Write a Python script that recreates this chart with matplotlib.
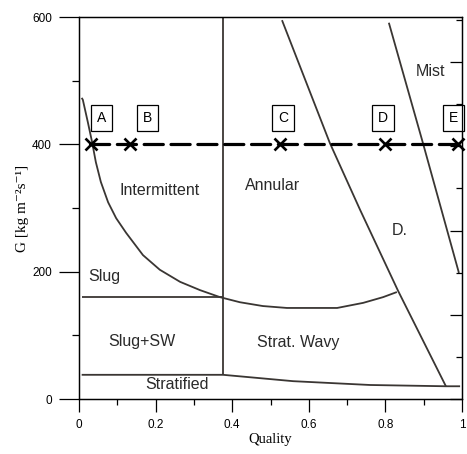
import matplotlib
matplotlib.use("Agg")
import matplotlib.pyplot as plt
from matplotlib.ticker import MultipleLocator, NullFormatter

# boundary curves (quality, G)
slug_int_x = [0.007, 0.010, 0.023, 0.034, 0.044, 0.057, 0.076, 0.097, 0.123,
              0.167, 0.211, 0.264, 0.316, 0.368, 0.420, 0.480, 0.543, 0.674,
              0.742, 0.794, 0.830]
slug_int_y = [473, 470, 435, 404, 372, 341, 309, 284, 261,
              226, 203, 184, 171, 160, 152, 146, 143, 143,
              151, 160, 168]

slug_x = [0.007, 0.376]
slug_y = [160, 160]

strat_x = [0.007, 0.376, 0.559, 0.76, 0.958, 0.995]
strat_y = [38, 38, 28, 22, 20, 20]

vert_x = [0.376, 0.376]
vert_y = [38, 600]

annular_x = [0.530, 0.655, 0.734, 0.833, 0.958]
annular_y = [595, 402, 297, 170, 20]

mist_x = [0.809, 0.898, 0.992]
mist_y = [591, 402, 198]

test_g = 400
test_x = [0.032, 0.133, 0.525, 0.799, 0.99]
case_labels = ['A', 'B', 'C', 'D', 'E']
case_label_x = [0.058, 0.178, 0.532, 0.793, 0.979]
case_label_y = 441

regions = ['Intermittent', 'Annular', 'Mist', 'D.', 'Slug', 'Slug+SW', 'Strat. Wavy', 'Stratified']
region_x = [0.211, 0.504, 0.919, 0.838, 0.067, 0.165, 0.571, 0.256]
region_y = [328, 335, 515, 264, 193, 91, 88, 22]

line_col = '#3a3633'
sans = ['Liberation Sans', 'DejaVu Sans']
serif = ['Liberation Serif', 'DejaVu Serif']

fig = plt.figure(figsize=(4.67, 4.54), dpi=100)
ax = fig.add_axes([79 / 467, 1 - 399 / 454, 383 / 467, 382 / 454])

for xs, ys in [(slug_int_x, slug_int_y), (slug_x, slug_y), (strat_x, strat_y),
               (vert_x, vert_y), (annular_x, annular_y), (mist_x, mist_y)]:
    ax.plot(xs, ys, color=line_col, lw=1.3, solid_capstyle='butt')

ax.plot([0.03, 1.0], [test_g, test_g], color='black', lw=2.3,
        dashes=(6, 2.4), dash_capstyle='round')
ax.plot(test_x, [test_g] * len(test_x), 'x', color='black', ms=8.5, mew=1.9,
        clip_on=False)

for lab, lx in zip(case_labels, case_label_x):
    ax.text(lx, case_label_y, lab, ha='center', va='center', fontsize=10,
            family=sans, clip_on=False,
            bbox=dict(boxstyle='square,pad=0.42', fc='white', ec='black', lw=0.9))

for txt, rx, ry in zip(regions, region_x, region_y):
    ax.text(rx, ry, txt, ha='center', va='center', fontsize=11.5, family=sans,
            color='#2a2a2a')

ax.set_xlim(0, 1)
ax.set_ylim(0, 600)
ax.set_xticks([0, 0.2, 0.4, 0.6, 0.8, 1.0])
ax.set_xticklabels(['0', '0.2', '0.4', '0.6', '0.8', '1'])
ax.xaxis.set_minor_locator(MultipleLocator(0.1))
ax.set_yticks([0, 200, 400, 600])
ax.yaxis.set_minor_locator(MultipleLocator(100))
ax.tick_params(axis='x', which='major', length=9.5, width=0.9, pad=5)
ax.tick_params(axis='x', which='minor', length=4.5, width=0.9)
ax.tick_params(axis='y', which='major', length=14.5, width=0.9, pad=5)
ax.tick_params(axis='y', which='minor', length=5, width=0.9)
for lab in ax.get_xticklabels() + ax.get_yticklabels():
    lab.set_family(sans)
    lab.set_fontsize(8.5)
for sp in ax.spines.values():
    sp.set_linewidth(0.9)

ax.set_xlabel('Quality', family=serif, fontsize=10.5, labelpad=1)
ax.set_ylabel('G [kg m\u207b\u00b2s\u207b\u00b9]', family=serif, fontsize=11, labelpad=2)

# right-hand axis: inward ticks, no labels
ax2 = ax.twinx()
ax2.set_ylim(0, 4.535)
ax2.yaxis.set_major_locator(MultipleLocator(1))
ax2.yaxis.set_minor_locator(MultipleLocator(0.5))
ax2.yaxis.set_major_formatter(NullFormatter())
ax2.tick_params(axis='y', which='major', direction='in', length=8.5, width=0.9)
ax2.tick_params(axis='y', which='minor', direction='in', length=4.5, width=0.9)
for sp in ax2.spines.values():
    sp.set_linewidth(0.9)

fig.savefig('out.png', dpi=100)
